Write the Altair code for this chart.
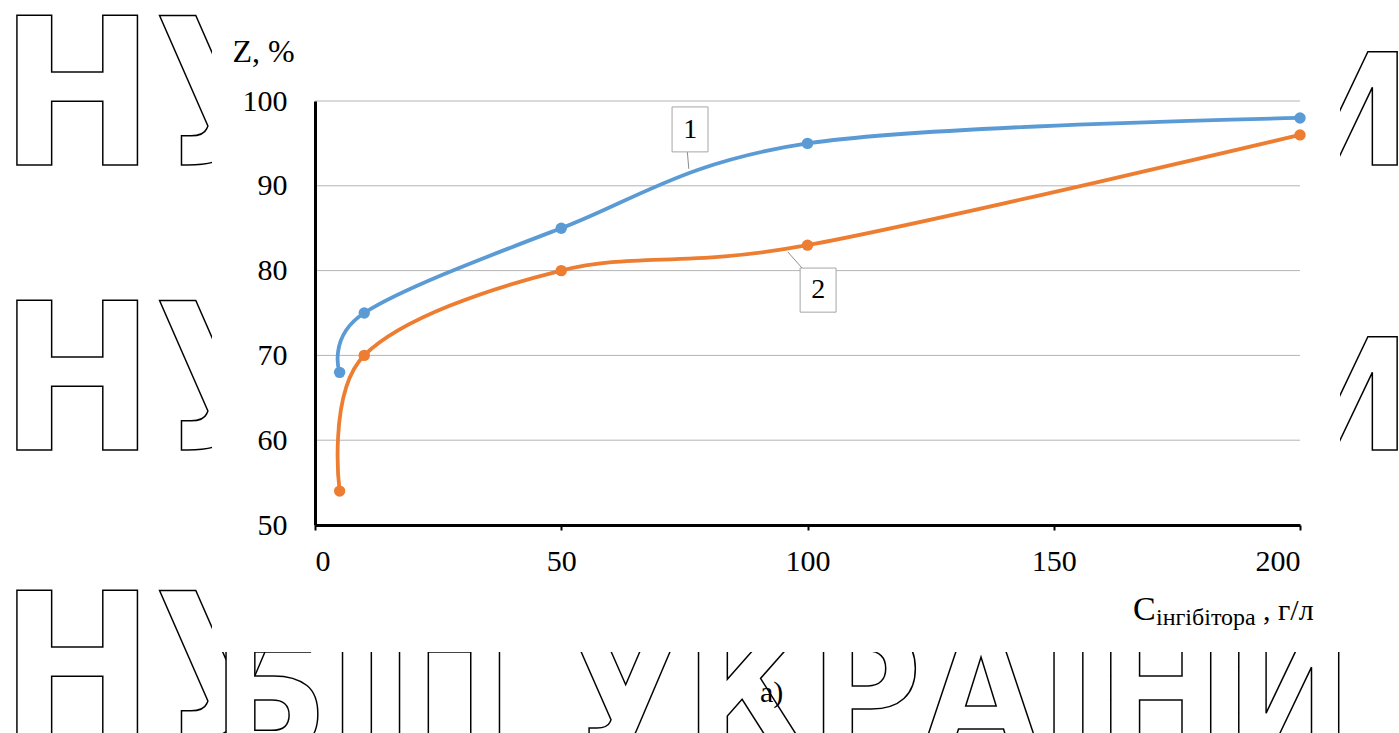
import altair as alt
import pandas as pd

# Inhibitor concentration, g/l, and protection degree Z, %
conc = [5, 10, 50, 100, 200]
z_series1 = [68, 75, 85, 95, 98]
z_series2 = [54, 70, 80, 83, 96]
series_names = ["1", "2"]
series_colors = ["#5b9bd5", "#ed7d31"]
x_ticks = [0, 50, 100, 150, 200]
y_ticks = [50, 60, 70, 80, 90, 100]
grid_values = [60, 70, 80, 90, 100]

# Callout boxes and their leader lines (data units)
box_x = [72.5, 98.5]
box_x2 = [79.8, 105.8]
box_y = [94.0, 75.1]
box_y2 = [99.3, 80.3]
box_tx = [76.2, 102.2]
box_ty = [96.6, 77.7]
lead_x = [75.6, 98.9]
lead_y = [94.0, 80.3]
lead_x2 = [75.9, 96.0]
lead_y2 = [92.0, 82.2]

W, H = 985, 424
LEFT, TOP = 315, 101
SERIF = "Liberation Serif"
WM_FONT = "DejaVu Sans Condensed, DejaVu Sans"


def px(x):
    return x - LEFT


def py(y):
    return y - TOP


xs = alt.Scale(domain=[0, 200], nice=False, zero=False)
ys = alt.Scale(domain=[50, 100], nice=False, zero=False)

df = pd.DataFrame({
    "c": conc * 2,
    "z": z_series1 + z_series2,
    "s": [series_names[0]] * len(conc) + [series_names[1]] * len(conc),
})
one = pd.DataFrame({"k": [0]})


# Outlined watermark lettering
def wm(text, x, y, size, align="left"):
    return alt.Chart(one).mark_text(
        text=text, x=px(x), y=py(y), align=align, baseline="alphabetic",
        font=WM_FONT, fontWeight="bold", fontSize=size,
        fill="white", stroke="black", strokeWidth=1.5,
    )


watermark = [
    wm("НУ", 0, 165, 205),
    wm("НУ", 0, 450, 205),
    wm("НУ", 0, 740, 205),
    wm("БІП УКРАЇНИ", 212, 752, 170),
    wm("И", 1410, 165, 155, "right"),
    wm("И", 1410, 450, 155, "right"),
]

cover = alt.Chart(one).mark_rect(color="white").encode(
    x=alt.value(px(212)), x2=alt.value(px(1340)),
    y=alt.value(py(0)), y2=alt.value(py(652)),
)

x_axis = alt.Axis(
    values=x_ticks, grid=False, title=None, zindex=1,
    domainColor="black", domainWidth=3,
    tickColor="black", tickWidth=2, tickSize=5,
    labelFont=SERIF, labelFontSize=30, labelColor="black", labelPadding=16,
)
y_axis = alt.Axis(
    values=y_ticks, grid=False, ticks=False, zindex=1,
    domainColor="black", domainWidth=3,
    labelFont=SERIF, labelFontSize=30, labelColor="black", labelPadding=28,
    title="Z, %", titleAngle=0, titleAlign="left", titleBaseline="alphabetic",
    titleX=-83, titleY=-40, titleFont=SERIF, titleFontSize=32,
    titleFontWeight="normal", titleColor="black",
)

grid = alt.Chart(pd.DataFrame({"g": grid_values})).mark_rule(
    color="#b4b4b4", strokeWidth=1
).encode(y=alt.Y("g:Q", scale=ys, axis=y_axis))

color = alt.Color("s:N", scale=alt.Scale(domain=series_names, range=series_colors), legend=None)

lines = alt.Chart(df).mark_line(interpolate="cardinal", strokeWidth=3.8).encode(
    x=alt.X("c:Q", scale=xs, axis=x_axis),
    y=alt.Y("z:Q", scale=ys, axis=y_axis),
    color=color,
    detail="s:N",
)
points = alt.Chart(df).mark_circle(size=130, opacity=1).encode(
    x=alt.X("c:Q", scale=xs, axis=x_axis),
    y=alt.Y("z:Q", scale=ys, axis=y_axis),
    color=color,
)

ann = pd.DataFrame({
    "bx": box_x, "bx2": box_x2, "by": box_y, "by2": box_y2,
    "tx": box_tx, "ty": box_ty,
    "lx": lead_x, "ly": lead_y, "lx2": lead_x2, "ly2": lead_y2,
    "label": series_names,
})
leaders = alt.Chart(ann).mark_rule(color="#8c8c8c", strokeWidth=1).encode(
    x=alt.X("lx:Q", scale=xs, axis=x_axis), y=alt.Y("ly:Q", scale=ys, axis=y_axis),
    x2="lx2:Q", y2="ly2:Q",
)
boxes = alt.Chart(ann).mark_rect(fill="white", stroke="#a6a6a6", strokeWidth=1).encode(
    x=alt.X("bx:Q", scale=xs, axis=x_axis), x2="bx2:Q",
    y=alt.Y("by:Q", scale=ys, axis=y_axis), y2="by2:Q",
)
box_text = alt.Chart(ann).mark_text(font=SERIF, fontSize=28, color="black").encode(
    x=alt.X("tx:Q", scale=xs, axis=x_axis), y=alt.Y("ty:Q", scale=ys, axis=y_axis),
    text="label:N",
)


def label(text, x, y, size):
    return alt.Chart(one).mark_text(
        text=text, x=px(x), y=py(y), align="left", baseline="alphabetic",
        font=SERIF, fontSize=size, color="black",
    )


texts = [
    label("C", 1133, 620, 34),
    label("інгібітора", 1156, 625, 24),
    label(", г/л", 1263, 620, 30),
    label("а)", 760, 702, 30),
]

chart = alt.layer(
    *watermark, cover, grid, lines, points, leaders, boxes, box_text, *texts
).properties(
    width=W, height=H,
    autosize="none",
    padding={"left": LEFT, "top": TOP, "right": 1399 - LEFT - W, "bottom": 733 - TOP - H},
    background="white",
).configure_view(stroke=None)

chart.save("out.html", embed_options={"renderer": "svg", "actions": False})
